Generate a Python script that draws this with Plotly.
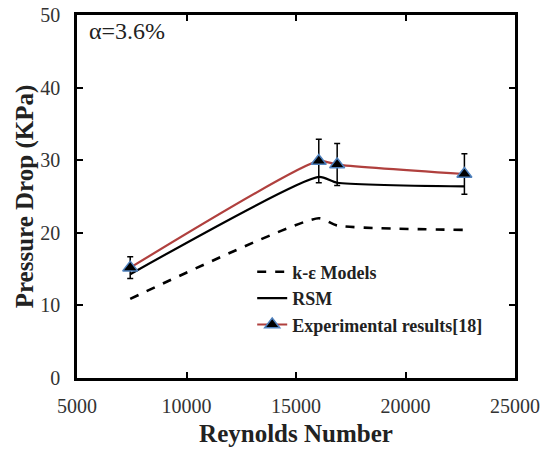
import plotly.graph_objects as go

# Data
reynolds = [7430, 16040, 16880, 22690]
ke_model = [10.9, 22.0, 21.0, 20.4]
rsm = [14.3, 27.7, 26.9, 26.4]
experimental = [15.2, 29.9, 29.4, 28.1]
exp_error = [1.5, 3.0, 2.9, 2.8]

x_ticks = [5000, 10000, 15000, 20000, 25000]
y_ticks = [0, 10, 20, 30, 40, 50]

FONT = "'Liberation Serif', 'Times New Roman', serif"

fig = go.Figure()

fig.add_trace(go.Scatter(
    x=reynolds, y=ke_model, mode="lines", name="k-ε Models",
    line=dict(color="black", width=2.6, dash="dash", shape="spline", smoothing=0.6),
    legendgroup="a",
))
fig.add_trace(go.Scatter(
    x=reynolds, y=rsm, mode="lines", name="RSM",
    line=dict(color="black", width=2.2, shape="spline", smoothing=0.6),
    legendgroup="b",
))
fig.add_trace(go.Scatter(
    x=reynolds, y=experimental, mode="lines+markers", name="Experimental results[18]",
    line=dict(color="#b0403e", width=2.2, shape="spline", smoothing=0.6),
    marker=dict(symbol="triangle-up", size=13, color="black",
                line=dict(color="#4f81bd", width=1.5)),
    error_y=dict(type="data", array=exp_error, visible=True,
                 color="black", thickness=1.5, width=3),
    legendgroup="c",
))

fig.add_annotation(
    x=0.022, y=0.997, xref="paper", yref="paper", xanchor="left", yanchor="top",
    text="α=3.6%", showarrow=False,
    font=dict(family=FONT, size=24, color="#222222"),
)

axis_common = dict(
    showline=True, linecolor="black", linewidth=2.5, mirror="ticks",
    ticks="inside", ticklen=6, tickwidth=2, tickcolor="black",
    showgrid=False, zeroline=False, automargin=False,
    tickfont=dict(family=FONT, size=20, color="#333333"),
)

fig.update_xaxes(
    range=[5000, 25000], tickvals=x_ticks, ticktext=[str(v) for v in x_ticks],
    ticklabelstandoff=8,
    title=dict(text="<b>Reynolds Number</b>", font=dict(family=FONT, size=25, color="#222222"),
               standoff=9),
    **axis_common,
)
fig.update_yaxes(
    range=[0, 50], tickvals=y_ticks, ticktext=[f"{v}\u2002" for v in y_ticks],
    title=dict(text="<b>Pressure Drop (KPa)</b>", font=dict(family=FONT, size=25, color="#222222"),
               standoff=0),
    **axis_common,
)

fig.update_layout(
    width=545, height=450,
    margin=dict(l=77, r=30, t=15, b=72),
    plot_bgcolor="white", paper_bgcolor="white",
    showlegend=True,
    legend=dict(
        x=0.40, y=0.343, xanchor="left", yanchor="top",
        bgcolor="rgba(0,0,0,0)", borderwidth=0,
        font=dict(family=FONT, size=18, color="#222222", weight="bold"),
        tracegroupgap=0,
    ),
)

fig.write_html("out.html")
